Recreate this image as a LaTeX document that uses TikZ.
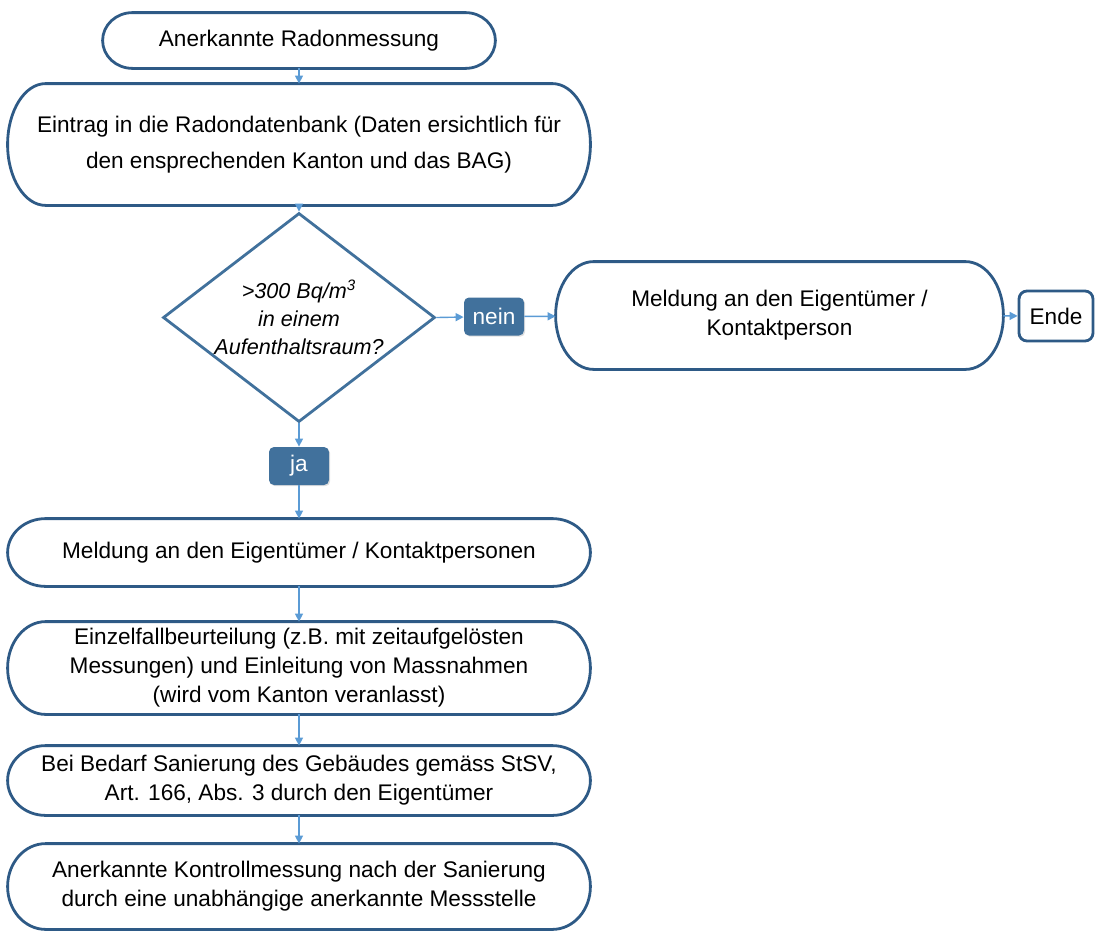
\documentclass[tikz,border=0pt]{standalone}
\usepackage{fontspec}
\setmainfont{Liberation Sans}
\usetikzlibrary{shapes.geometric,arrows.meta,calc,shadows}

\definecolor{boxblue}{HTML}{2E5A86}
\definecolor{diablue}{HTML}{41719C}
\definecolor{arrowblue}{HTML}{5B9BD5}
\definecolor{tagblue}{HTML}{41719C}

\tikzset{
  term/.style={inner sep=0pt, align=center, font=\fontsize{11.3}{14.5}\selectfont},
  decision/.style={diamond, draw=diablue, line width=1.4pt, inner sep=0pt},
  tag/.style={fill=tagblue, text=white, rounded corners=2.5pt, inner sep=0pt,
    minimum width=30pt, minimum height=19pt, font=\fontsize{11.3}{14}\selectfont,
    drop shadow={shadow xshift=0.6pt, shadow yshift=-0.6pt, opacity=0.25}},
  flow/.style={-{Triangle[length=4pt,width=4pt]}, draw=arrowblue, line width=0.7pt},
  boxline/.style={draw=boxblue, line width=1.4pt}
}

% outline with elliptical ends around a named node
\newcommand\termline[2][19pt]{%
  \draw[boxline] let \p1=(#2.north), \p2=(#2.south), \n1={(\y1-\y2)/2} in
    ($(#2.north west)+(#1,0)$) -- ($(#2.north east)+(-#1,0)$)
    arc[start angle=90, end angle=-90, x radius=#1, y radius=\n1]
    -- ($(#2.south west)+(#1,0)$)
    arc[start angle=270, end angle=90, x radius=#1, y radius=\n1] -- cycle;}

\begin{document}
\begin{tikzpicture}[x=0.5pt,y=-0.5pt]
  \useasboundingbox (0,0) rectangle (1095,932);

  % Steps
  \node[term,minimum width=196pt,minimum height=27.5pt] (start) at (299,40.5) {Anerkannte Radonmessung};
  \node[term,minimum width=291pt,minimum height=60.5pt,font=\fontsize{11.3}{18}\selectfont] (entry) at (299,144.5)
    {Eintrag in die Radondatenbank (Daten ersichtlich für\\den ensprechenden Kanton und das BAG)};
  \node[decision,minimum width=136pt,minimum height=104.5pt] (check) at (299,317.5) {};
  \node[align=center,inner sep=0pt,font=\fontsize{10.8}{14}\selectfont\itshape] (checktext) at (check.center)
    {>300 Bq/m\textsuperscript{3}\\in einem\\Aufenthaltsraum?};
  \node[tag] (nein) at (494,316.5) {nein};
  \node[term,minimum width=223.5pt,minimum height=53.5pt] (owner) at (779.5,315.5)
    {Meldung an den Eigentümer /\\Kontaktperson};
  \node[term,draw=boxblue,line width=1.4pt,rounded corners=4pt,minimum width=37pt,minimum height=25pt] (ende) at (1056,316) {Ende};
  \node[tag] (ja) at (299,466) {ja};
  \node[term,minimum width=291pt,minimum height=33.5pt] (notify) at (299,552.5)
    {Meldung an den Eigentümer / Kontaktpersonen};
  \node[term,minimum width=291pt,minimum height=46pt] (assess) at (299,668)
    {Einzelfallbeurteilung (z.B. mit zeitaufgelösten\\Messungen) und Einleitung von Massnahmen\\(wird vom Kanton veranlasst)};
  \node[term,minimum width=291pt,minimum height=34.5pt] (repair) at (299,780.5)
    {Bei Bedarf Sanierung des Gebäudes gemäss StSV,\\Art. 166, Abs. 3 durch den Eigentümer};
  \node[term,minimum width=291pt,minimum height=42.5pt] (control) at (299,886.5)
    {Anerkannte Kontrollmessung nach der Sanierung\\durch eine unabhängige anerkannte Messstelle};

  % Outlines
  \termline[15pt]{start}
  \foreach \nm in {entry,owner,notify,assess,repair,control}
    \termline{\nm};

  % Arrows
  \draw[flow] (start) -- (entry);
  \draw[flow] (entry) -- (check.north);
  \draw[flow] (check.east) -- (nein);
  \draw[flow] (nein) -- (owner);
  \draw[flow] (owner) -- (ende);
  \draw[flow] (check.south) -- (ja);
  \draw[flow] (ja) -- (notify);
  \draw[flow] (notify) -- (assess);
  \draw[flow] (assess) -- (repair);
  \draw[flow] (repair) -- (control);

\end{tikzpicture}
\end{document}
